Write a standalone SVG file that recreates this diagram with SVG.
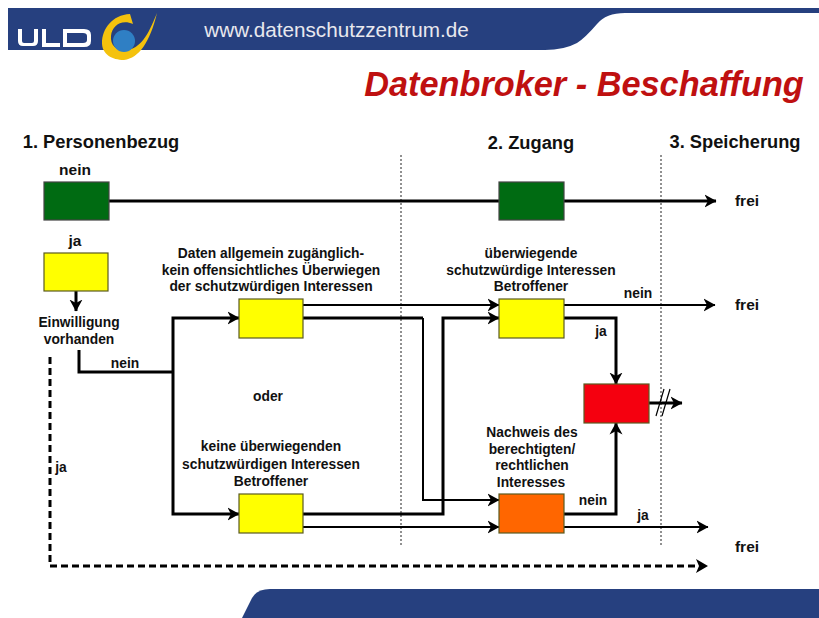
<svg xmlns="http://www.w3.org/2000/svg" width="819" height="618" viewBox="0 0 819 618">
<style>
.band{fill:#26407f}
.box{stroke:#5a5a20;stroke-width:1.2}
.y{fill:#ffff00}.g{fill:#006b12;stroke:#444}.r{fill:#f5000f}.o{fill:#ff6600}
text{font-family:"Liberation Sans",Arial,sans-serif;font-weight:bold;fill:#111;font-size:13.8px;text-anchor:middle}
.h{font-size:18.3px}
.f{font-size:15.5px}
.c{fill:none;stroke:#000;stroke-linejoin:miter}
.t1{stroke-width:2}.t2{stroke-width:3}
.thin{stroke:#222;stroke-width:1;stroke-dasharray:2 2;fill:none}
</style>
<defs>
<marker id="a" markerUnits="userSpaceOnUse" markerWidth="14" markerHeight="14" refX="11.5" refY="7" orient="auto">
<path d="M0 0.5L12 7L0 13.500L3.500 7Z" fill="#000"/>
</marker>
</defs>
<g id="header">
<path class="band" d="M8 8H819V13H625Q606 13 597 24Q585 38 577 43Q564 50 545 50H8Z"/>
<path d="M18 29V41Q18 46 23 46H33Q38 46 38 41V29H34V41Q34 43 32 43H24Q22 43 22 41V29ZM42 29V47H60V43H46V29ZM63 29V47H84Q91 47 91 41V35Q91 29 84 29ZM67 33H83Q87 33 87 36V40Q87 43 83 43H67Z" fill="#fff"/>
<path d="M130 14C112 15 102 29 102 43C102 54 112 60 124 60C139 58 150 42 157 13C150 30 143 47 128 50C118 52 110 46 111 36C112 26 121 19 133 24Z" fill="#f4c20d"/>
<circle cx="124" cy="41" r="11" fill="#2f7fc4"/>
<text x="336.500" y="37" style="font-size:20.700px;font-weight:normal;fill:#e8e8ee">www.datenschutzzentrum.de</text>
</g>
<text x="584" y="96" style="font-size:34.300px;font-style:italic;fill:#bf1010">Datenbroker - Beschaffung</text>
<path id="footer" class="band" d="M242 618Q248 606 252 598Q257 589 270 589H819V618Z"/>
<g id="dividers">
<path class="thin" d="M401 155V546M661 155V546"/>
</g>
<g id="connectors">
<path class="c t2" marker-end="url(#a)" d="M109 201H716"/>
<path class="c t2" marker-end="url(#a)" d="M76 291V311"/>
<path class="c t2" d="M79 350V372H173"/>
<path class="c t2" marker-end="url(#a)" d="M173 372V318H239"/>
<path class="c t2" marker-end="url(#a)" d="M173 372V514H239"/>
<path class="c t1" marker-end="url(#a)" d="M303 305H499"/>
<path class="c t1" marker-end="url(#a)" d="M564 305H715"/>
<path class="c t2" d="M303 318H423"/>
<path class="c t1" marker-end="url(#a)" d="M423 318V500H499"/>
<path class="c t2" marker-end="url(#a)" d="M303 514H443V318H499"/>
<path class="c t1" marker-end="url(#a)" d="M303 527H499"/>
<path class="c t1" marker-end="url(#a)" d="M564 527H708"/>
<path class="c t2" marker-end="url(#a)" d="M564 318H616V384"/>
<path class="c t2" marker-end="url(#a)" d="M564 514H616V423"/>
<path class="c t2" marker-end="url(#a)" d="M648 403H682"/>
<path class="c" stroke-width="1.200" d="M656 416L664 389M662 416L670 389"/>
<path class="c t2" stroke-dasharray="7 4" d="M50 357V566H700"/>
<path d="M696 559L708 566L696 573L699 566Z" fill="#000"/>
</g>
<g id="n1"><rect class="box g" x="44" y="182" width="65" height="38"/></g>
<g id="n2"><rect class="box g" x="499" y="182" width="65" height="38"/></g>
<g id="n3"><rect class="box y" x="44" y="253" width="64" height="38"/></g>
<g id="n4"><rect class="box y" x="239" y="299" width="64" height="39"/></g>
<g id="n5"><rect class="box y" x="499" y="299" width="65" height="39"/></g>
<g id="n6"><rect class="box r" x="584" y="384" width="65" height="39"/></g>
<g id="n7"><rect class="box y" x="239" y="494" width="64" height="39"/></g>
<g id="n8"><rect class="box o" x="499" y="494" width="65" height="39"/></g>
<g id="labels">
<text class="h" x="101" y="148">1. Personenbezug</text>
<text class="h" x="531" y="149">2. Zugang</text>
<text class="h" x="735" y="148">3. Speicherung</text>
<text class="f" x="75" y="175">nein</text>
<text class="f" x="75" y="246">ja</text>
<text x="79" y="327">Einwilligung</text>
<text x="79" y="344">vorhanden</text>
<text x="125" y="368">nein</text>
<text x="271" y="258">Daten allgemein zugänglich-</text>
<text x="271" y="275">kein offensichtliches Überwiegen</text>
<text x="271" y="291">der schutzwürdigen Interessen</text>
<text x="531" y="258">überwiegende</text>
<text x="531" y="275">schutzwürdige Interessen</text>
<text x="531" y="291">Betroffener</text>
<text x="638" y="298">nein</text>
<text x="601" y="336">ja</text>
<text x="268" y="401">oder</text>
<text x="271" y="451">keine überwiegenden</text>
<text x="271" y="469">schutzwürdigen Interessen</text>
<text x="271" y="486">Betroffener</text>
<text x="532" y="437">Nachweis des</text>
<text x="532" y="454">berechtigten/</text>
<text x="532" y="470">rechtlichen</text>
<text x="531" y="487">Interesses</text>
<text x="593" y="505">nein</text>
<text x="643" y="520">ja</text>
<text x="61" y="472">ja</text>
<text class="f" x="747" y="206">frei</text>
<text class="f" x="747" y="310">frei</text>
<text class="f" x="747" y="552">frei</text>
</g>
</svg>
